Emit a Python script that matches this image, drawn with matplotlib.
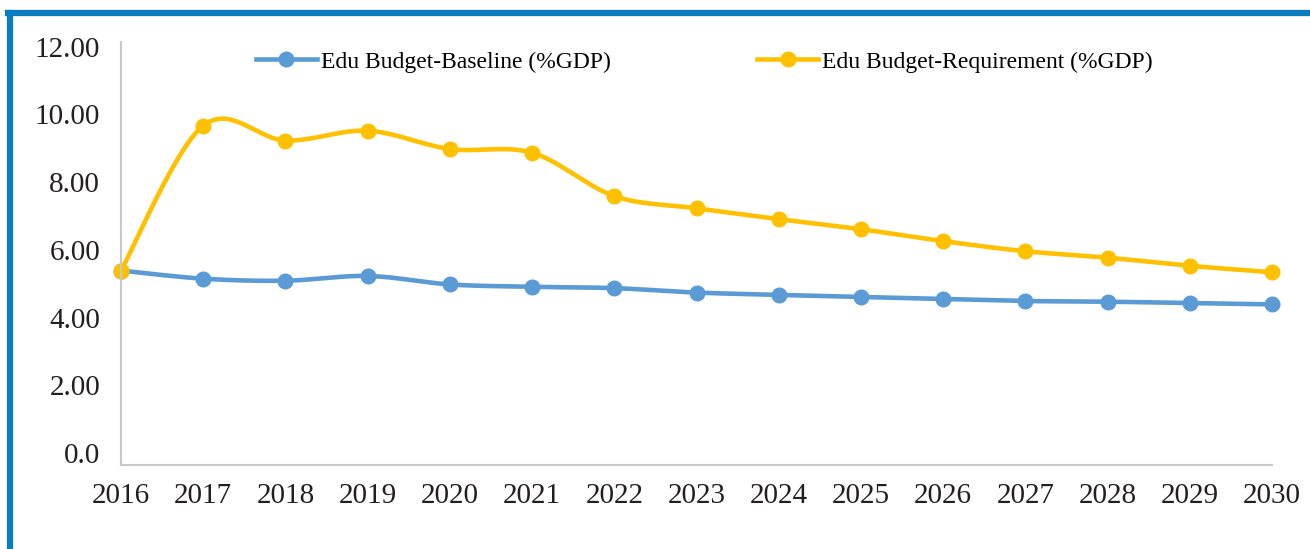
import numpy as np
import matplotlib
matplotlib.use("Agg")
import matplotlib.pyplot as plt
from matplotlib.lines import Line2D

years = list(range(2016, 2031))
baseline = [5.39, 5.15, 5.09, 5.23, 4.98, 4.91, 4.87, 4.74, 4.67, 4.61, 4.55, 4.49, 4.47, 4.43, 4.39]
requirement = [5.39, 9.67, 9.23, 9.52, 8.98, 8.87, 7.59, 7.23, 6.91, 6.61, 6.26, 5.96, 5.77, 5.53, 5.34]
y_ticks = [0, 2, 4, 6, 8, 10, 12]
y_labels = ["0.0", "2.00", "4.00", "6.00", "8.00", "10.00", "12.00"]

blue = "#5b9bd5"
gold = "#ffc000"
frame_blue = "#0a7cc1"

plt.rcParams['font.family'] = ['Liberation Serif', 'DejaVu Serif']


def smooth(xs, ys, n=30):
    # bezier smoothing like a spreadsheet "smoothed line"
    x = np.asarray(xs, float)
    y = np.asarray(ys, float)
    px = np.concatenate([[x[0]], x, [x[-1]]])
    py = np.concatenate([[y[0]], y, [y[-1]]])
    out_x, out_y = [], []
    t = np.linspace(0, 1, n)
    for i in range(len(x) - 1):
        p0 = (px[i + 1], py[i + 1])
        p3 = (px[i + 2], py[i + 2])
        c1 = (p0[0] + (px[i + 2] - px[i]) / 6, p0[1] + (py[i + 2] - py[i]) / 6)
        c2 = (p3[0] - (px[i + 3] - px[i + 1]) / 6, p3[1] - (py[i + 3] - py[i + 1]) / 6)
        bx = (1-t)**3*p0[0] + 3*(1-t)**2*t*c1[0] + 3*(1-t)*t**2*c2[0] + t**3*p3[0]
        by = (1-t)**3*p0[1] + 3*(1-t)**2*t*c1[1] + 3*(1-t)*t**2*c2[1] + t**3*p3[1]
        out_x.extend(bx)
        out_y.extend(by)
    return out_x, out_y


fig = plt.figure(figsize=(13.1, 5.49), dpi=100)
ax = fig.add_axes([121/1310, 1-465/549, (1272-121)/1310, (465-41.7)/549])

for series, color in [(baseline, blue), (requirement, gold)]:
    sx, sy = smooth(years, series)
    ax.plot(sx, sy, color=color, linewidth=3.3, solid_capstyle='round', clip_on=False)
    ax.plot(years, series, linestyle='none', marker='o', markersize=10.5,
            color=color, clip_on=False)

ax.set_xlim(2016, 2030)
ax.set_ylim(-0.354, 12.15)
ax.set_xticks(years)
ax.set_xticklabels([str(y) for y in years], fontsize=21)
ax.set_yticks(y_ticks)
ax.set_yticklabels(y_labels, fontsize=21)
ax.tick_params(axis='both', length=0, colors='#231f20')
ax.tick_params(axis='x', pad=13)
ax.tick_params(axis='y', pad=15)
for side in ['top', 'right']:
    ax.spines[side].set_visible(False)
for side in ['left', 'bottom']:
    ax.spines[side].set_color('#c8c8c8')
    ax.spines[side].set_linewidth(1.5)

handles = [Line2D([], [], color=blue, linewidth=3.3, marker='o', markersize=10.5),
           Line2D([], [], color=gold, linewidth=3.3, marker='o', markersize=10.5)]
names = ["Edu Budget-Baseline (%GDP)", "Edu Budget-Requirement (%GDP)"]
fig.legend(handles, names, loc='center', bbox_to_anchor=(704/1310, 1-62/549),
           ncol=2, frameon=False, fontsize=17, handlelength=2.6,
           handletextpad=0.15, columnspacing=6.2)

# page frame
fig.add_artist(Line2D([9.5/1310, 9.5/1310], [0, 1-13/549], color=frame_blue,
                      linewidth=4.5, transform=fig.transFigure))
fig.add_artist(Line2D([7.5/1310, 1], [1-13/549, 1-13/549], color=frame_blue,
                      linewidth=4.5, transform=fig.transFigure))

fig.savefig("out.png", dpi=100)
